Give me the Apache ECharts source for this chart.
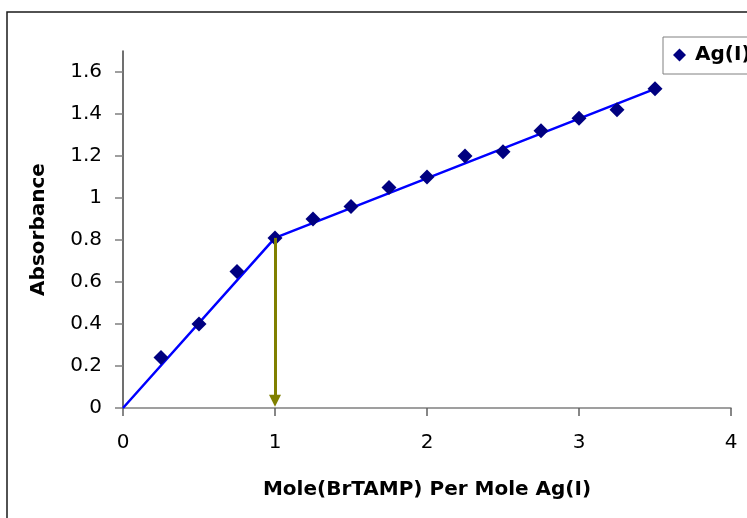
<!DOCTYPE html>
<html>
<head>
<meta charset="utf-8">
<script src="https://cdn.jsdelivr.net/npm/echarts@6/dist/echarts.min.js"></script>
<style>html,body{margin:0;padding:0;background:#fff;}#c{width:747px;height:518px;}</style>
</head>
<body>
<div id="c"></div>
<script>
// Data
var ratio = [0.25, 0.5, 0.75, 1.0, 1.25, 1.5, 1.75, 2.0, 2.25, 2.5, 2.75, 3.0, 3.25, 3.5];
var absorbance = [0.24, 0.40, 0.65, 0.81, 0.90, 0.96, 1.05, 1.10, 1.20, 1.22, 1.32, 1.38, 1.42, 1.52];
// Fitted straight lines (two segments meeting at the break point)
var fitX = [0, 1.0, 3.5];
var fitY = [0, 0.81, 1.52];
// Arrow from the break point down toward the x axis (end = centre of arrow head)
var arrowX = [1.0, 1.0];
var arrowY = [0.81, 0.035];
var yTicks = [0, 0.2, 0.4, 0.6, 0.8, 1.0, 1.2, 1.4, 1.6];
var xTicks = [0, 1, 2, 3, 4];
var seriesName = 'Ag(I)';
var xTitle = 'Mole(BrTAMP) Per Mole Ag(I)';
var yTitle = 'Absorbance';

var FONT = 'DejaVu Sans';
var pts = ratio.map(function (x, i) { return [x, absorbance[i]]; });
var fit = fitX.map(function (x, i) { return [x, fitY[i]]; });

var chart = echarts.init(document.getElementById('c'), null, {renderer: 'canvas'});
chart.setOption({
  animation: false,
  backgroundColor: '#fff',
  graphic: [{
    type: 'rect', silent: true, z: -1,
    shape: {x: 7, y: 12, width: 800, height: 560},
    style: {fill: 'none', stroke: '#1a1a1a', lineWidth: 1.5}
  }],
  grid: {left: 123, top: 51, right: 16, bottom: 110, containLabel: false},
  legend: {
    left: 663, top: 37,
    padding: [8, 10, 9, 10],
    borderColor: '#808080', borderWidth: 1,
    backgroundColor: '#fff',
    itemWidth: 13, itemHeight: 13,
    icon: 'diamond',
    data: [seriesName],
    itemStyle: {color: '#000080', opacity: 1},
    textStyle: {fontFamily: FONT, fontWeight: 'bold', fontSize: 20, color: '#000', padding: [0, 0, 0, 4]}
  },
  xAxis: {
    type: 'value', min: 0, max: 4, interval: 1,
    splitLine: {show: false},
    axisLine: {onZero: false, lineStyle: {color: '#808080', width: 1.5}},
    axisTick: {show: true, length: 8, lineStyle: {color: '#606060', width: 1.5}, customValues: xTicks},
    axisLabel: {fontFamily: FONT, fontSize: 20, color: '#000', margin: 25, customValues: xTicks},
    name: xTitle, nameLocation: 'middle', nameGap: 72,
    nameTextStyle: {fontFamily: FONT, fontWeight: 'bold', fontSize: 20, color: '#000'}
  },
  yAxis: {
    type: 'value', min: 0, max: 1.7,
    splitLine: {show: false},
    axisLine: {show: true, lineStyle: {color: '#404040', width: 1.5}},
    axisTick: {show: true, length: 8, lineStyle: {color: '#808080', width: 1.5}, customValues: yTicks},
    axisLabel: {fontFamily: FONT, fontSize: 20, color: '#000', margin: 21, customValues: yTicks,
      formatter: function (v) { return String(Math.round(v * 10) / 10); }},
    name: yTitle, nameLocation: 'middle', nameGap: 74, nameRotate: 90,
    nameTextStyle: {fontFamily: FONT, fontWeight: 'bold', fontSize: 20, color: '#000'}
  },
  series: [{
    type: 'line', name: 'fit', data: fit, showSymbol: false, silent: true,
    lineStyle: {color: '#0000FF', width: 2.5}, z: 2,
    markLine: {
      silent: true, symbol: ['none', 'triangle'], symbolSize: 12,
      label: {show: false},
      lineStyle: {color: '#808000', width: 3, type: 'solid'},
      emphasis: {disabled: true},
      data: [[{coord: [arrowX[0], arrowY[0]]}, {coord: [arrowX[1], arrowY[1]]}]]
    }
  }, {
    type: 'scatter', name: seriesName, data: pts, symbol: 'diamond', symbolSize: 15,
    itemStyle: {color: '#000080', opacity: 1}, z: 3
  }]
});
</script>
</body>
</html>
